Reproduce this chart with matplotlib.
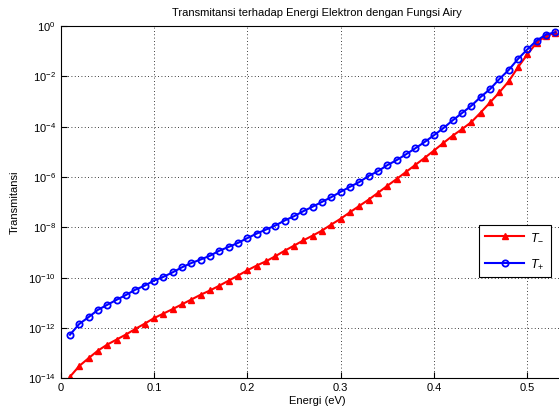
import numpy as np
import matplotlib
matplotlib.use('Agg')
import matplotlib.pyplot as plt
from matplotlib.ticker import NullLocator

plt.rcParams['font.family'] = ['Liberation Sans', 'DejaVu Sans']
plt.rcParams['font.size'] = 8
plt.rcParams['mathtext.fontset'] = 'custom'
plt.rcParams['mathtext.rm'] = 'Liberation Sans'
plt.rcParams['mathtext.it'] = 'Liberation Sans:italic'

# energi (eV), langkah 0.01
energi = np.round(np.arange(0.01, 0.535, 0.01), 2)

# log10 transmitansi
log_t_minus = [-13.94, -13.51, -13.20, -12.90, -12.66, -12.46, -12.26, -12.04, -11.83, -11.61,
               -11.43, -11.25, -11.06, -10.87, -10.68, -10.51, -10.32, -10.12, -9.92, -9.71,
               -9.52, -9.35, -9.15, -8.93, -8.73, -8.52, -8.33, -8.13, -7.89, -7.66,
               -7.40, -7.15, -6.90, -6.63, -6.35, -6.08, -5.80, -5.52, -5.24, -4.95,
               -4.65, -4.36, -4.10, -3.82, -3.44, -3.04, -2.64, -2.20, -1.64, -1.13,
               -0.66, -0.39, -0.28]
log_t_plus = [-12.27, -11.84, -11.57, -11.28, -11.08, -10.88, -10.69, -10.48, -10.32, -10.12,
              -9.97, -9.79, -9.59, -9.42, -9.28, -9.13, -8.93, -8.78, -8.62, -8.43,
              -8.25, -8.09, -7.93, -7.73, -7.56, -7.36, -7.18, -6.99, -6.80, -6.59,
              -6.39, -6.20, -5.96, -5.77, -5.53, -5.33, -5.10, -4.86, -4.61, -4.34,
              -4.06, -3.75, -3.46, -3.17, -2.82, -2.51, -2.11, -1.75, -1.31, -0.93,
              -0.58, -0.34, -0.25]

x_ticks = [0, 0.1, 0.2, 0.3, 0.4, 0.5]
x_ticklabels = ['0', '0.1', '0.2', '0.3', '0.4', '0.5']
y_exponents = [0, -2, -4, -6, -8, -10, -12, -14]

t_minus = 10.0 ** np.array(log_t_minus)
t_plus = 10.0 ** np.array(log_t_plus)

fig = plt.figure(figsize=(5.59, 4.19), dpi=100)
ax = fig.add_axes([60.6 / 559, 1 - 378.3 / 419, 513.4 / 559, 352.3 / 419])

ax.semilogy(energi, t_minus, '-^', color='red', lw=1.5, ms=4.5,
            mfc='red', mec='red', label='$T_{-}$')
ax.semilogy(energi, t_plus, '-o', color='blue', lw=1.5, ms=4.5,
            mfc='none', mec='blue', mew=1.3, label='$T_{+}$')

ax.set_xlim(0, 0.55)
ax.set_ylim(1e-14, 1)
ax.set_xticks(x_ticks)
ax.set_xticklabels(x_ticklabels)
ax.set_yticks([10.0 ** e for e in y_exponents])
ax.set_yticklabels(['$\\mathdefault{10^{%d}}$' % e for e in y_exponents])
ax.yaxis.set_minor_locator(NullLocator())
ax.tick_params(direction='in', length=4, width=0.8, colors='black', labelsize=8)
ax.grid(True, which='major', color='black', linestyle=(0, (1, 3)), linewidth=0.6)

ax.set_title('Transmitansi terhadap Energi Elektron dengan Fungsi Airy', fontsize=8, pad=7)
ax.set_xlabel('Energi (eV)', fontsize=8, labelpad=2)
ax.set_ylabel('Transmitansi', fontsize=8, labelpad=6)

leg = ax.legend(loc='lower right', bbox_to_anchor=(0.955, 0.2875), fancybox=False,
                edgecolor='black', framealpha=1, handlelength=3.1, fontsize=9,
                borderpad=0.5, labelspacing=1.15, handletextpad=0.5, borderaxespad=0)
leg.get_frame().set_linewidth(0.8)

fig.savefig('out.png', dpi=100)
